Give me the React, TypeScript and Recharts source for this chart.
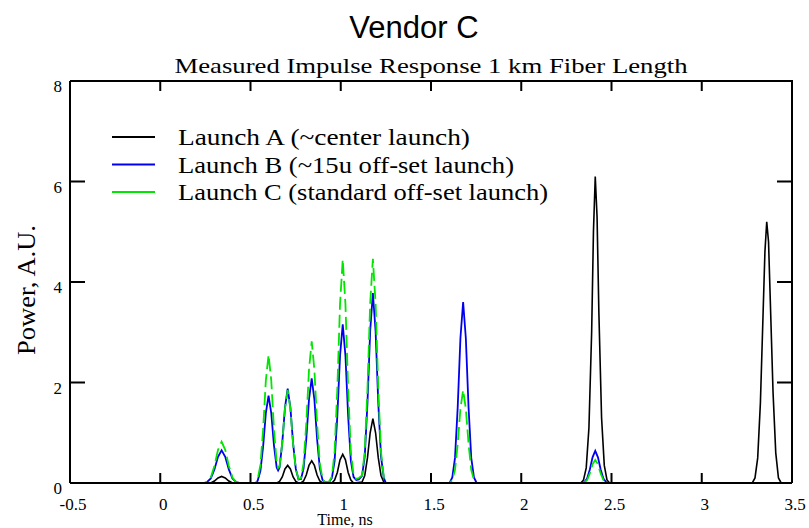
import { LineChart, Line, XAxis, YAxis } from 'recharts'

// time (ns), power (A.U.)
const launchA: [number, number][] = [
  [-0.11, 0], [0.28, 0], [0.3, 0.04], [0.32, 0.1], [0.34, 0.13], [0.36, 0.1], [0.38, 0.04], [0.4, 0],
  [0.646, 0], [0.661, 0.03], [0.676, 0.12], [0.691, 0.28], [0.706, 0.35], [0.721, 0.28], [0.736, 0.12], [0.751, 0.03], [0.766, 0],
  [0.779, 0], [0.794, 0.04], [0.809, 0.16], [0.824, 0.35], [0.839, 0.44], [0.854, 0.35], [0.869, 0.16], [0.884, 0.04], [0.899, 0],
  [0.951, 0], [0.966, 0.06], [0.981, 0.21], [0.996, 0.46], [1.011, 0.57], [1.026, 0.46], [1.041, 0.21], [1.056, 0.06], [1.071, 0],
  [1.118, 0.02], [1.133, 0.15], [1.148, 0.5], [1.163, 1.0], [1.178, 1.28], [1.193, 1.0], [1.208, 0.5], [1.223, 0.15], [1.238, 0.02], [1.25, 0],
  [2.33, 0], [2.345, 0.06], [2.36, 0.3], [2.375, 1.1], [2.39, 3.0], [2.4, 5.0], [2.41, 6.1], [2.42, 5.3], [2.43, 3.4], [2.445, 1.3], [2.46, 0.35], [2.475, 0.06], [2.49, 0],
  [3.28, 0], [3.295, 0.1], [3.31, 0.5], [3.325, 1.6], [3.34, 3.4], [3.35, 4.6], [3.36, 5.2], [3.37, 4.8], [3.38, 3.6], [3.395, 1.8], [3.41, 0.6], [3.425, 0.1], [3.44, 0],
  [3.5, 0],
]

const launchB: [number, number][] = [
  [-0.11, 0], [0.24, 0], [0.26, 0.02], [0.28, 0.09], [0.3, 0.27], [0.32, 0.52], [0.34, 0.65], [0.36, 0.52], [0.38, 0.27], [0.4, 0.09], [0.42, 0.02], [0.44, 0],
  [0.53, 0], [0.54, 0.05], [0.555, 0.24], [0.57, 0.73], [0.585, 1.39], [0.6, 1.74], [0.615, 1.39], [0.63, 0.75], [0.645, 0.31], [0.653, 0.25], [0.661, 0.31],
  [0.676, 0.8], [0.691, 1.5], [0.706, 1.88], [0.721, 1.5], [0.736, 0.79], [0.751, 0.28], [0.766, 0.07], [0.78, 0.08],
  [0.794, 0.29], [0.809, 0.87], [0.824, 1.66], [0.839, 2.08], [0.854, 1.66], [0.869, 0.87], [0.884, 0.29], [0.899, 0.06], [0.914, 0.01],
  [0.936, 0.02], [0.951, 0.1], [0.966, 0.44], [0.981, 1.33], [0.996, 2.53], [1.011, 3.16], [1.026, 2.53], [1.041, 1.33], [1.056, 0.44], [1.071, 0.12], [1.086, 0.06], [1.1, 0.07],
  [1.118, 0.14], [1.133, 0.53], [1.148, 1.59], [1.163, 3.02], [1.178, 3.78], [1.193, 3.02], [1.208, 1.59], [1.223, 0.53], [1.238, 0.11], [1.25, 0],
  [1.603, 0], [1.618, 0.11], [1.633, 0.5], [1.648, 1.51], [1.663, 2.88], [1.678, 3.6], [1.693, 2.88], [1.708, 1.51], [1.723, 0.5], [1.738, 0.11], [1.753, 0],
  [2.335, 0], [2.35, 0.02], [2.365, 0.09], [2.38, 0.27], [2.395, 0.51], [2.41, 0.64], [2.425, 0.51], [2.44, 0.27], [2.455, 0.09], [2.47, 0.02], [2.485, 0],
  [3.5, 0],
]

const launchC: [number, number][] = [
  [-0.11, 0], [0.24, 0], [0.26, 0.02], [0.28, 0.11], [0.3, 0.34], [0.32, 0.66], [0.34, 0.82], [0.36, 0.66], [0.38, 0.34], [0.4, 0.11], [0.42, 0.02], [0.44, 0],
  [0.53, 0], [0.54, 0.08], [0.555, 0.36], [0.57, 1.07], [0.585, 2.04], [0.6, 2.55], [0.615, 2.04], [0.63, 1.07], [0.645, 0.4], [0.653, 0.3], [0.661, 0.33],
  [0.676, 0.8], [0.691, 1.48], [0.706, 1.85], [0.721, 1.48], [0.736, 0.78], [0.751, 0.28], [0.766, 0.08], [0.78, 0.1],
  [0.794, 0.39], [0.809, 1.18], [0.824, 2.25], [0.839, 2.82], [0.854, 2.25], [0.869, 1.18], [0.884, 0.39], [0.899, 0.08], [0.914, 0.01],
  [0.936, 0.03], [0.951, 0.13], [0.966, 0.62], [0.981, 1.87], [0.996, 3.56], [1.011, 4.45], [1.026, 3.56], [1.041, 1.87], [1.056, 0.62], [1.071, 0.16], [1.086, 0.08], [1.1, 0.1],
  [1.118, 0.15], [1.133, 0.63], [1.148, 1.87], [1.163, 3.57], [1.178, 4.46], [1.193, 3.57], [1.208, 1.87], [1.223, 0.62], [1.238, 0.13], [1.25, 0],
  [1.603, 0], [1.618, 0.06], [1.633, 0.26], [1.648, 0.78], [1.663, 1.48], [1.678, 1.85], [1.693, 1.48], [1.708, 0.78], [1.723, 0.26], [1.738, 0.06], [1.753, 0],
  [2.335, 0], [2.35, 0.01], [2.365, 0.06], [2.38, 0.19], [2.395, 0.37], [2.41, 0.46], [2.425, 0.37], [2.44, 0.19], [2.455, 0.06], [2.47, 0.01], [2.485, 0],
  [3.5, 0],
]

const timeDomain: [number, number] = [-0.5, 3.5]
const powerDomain: [number, number] = [0, 8]
const timeTicks = [-0.5, 0, 0.5, 1, 1.5, 2, 2.5, 3, 3.5]
const powerTicks = [0, 2, 4, 6, 8]

const seriesNames = [
  'Launch A (~center launch)',
  'Launch B (~15u off-set launch)',
  'Launch C (standard off-set launch)',
]
const seriesColors = ['#000000', '#0000ee', '#00e600']
const legendTextWidths = [292, 336, 370]

const toRows = (pts: [number, number][]) => pts.map(([t, p]) => ({ t, p }))

const serif = '"Liberation Serif", "Times New Roman", serif'

// plot box in page pixels; the chart margins are derived from it
const W = 809
const H = 528
const plot = { left: 70, right: 792, top: 81, bottom: 483 }
const yAxisWidth = 50
const xAxisHeight = 30

// same linear mapping the chart uses, only for the frame's inward tick marks
const tickX = (t: number) =>
  plot.left + ((t - timeDomain[0]) / (timeDomain[1] - timeDomain[0])) * (plot.right - plot.left)
const tickY = (v: number) =>
  plot.bottom - ((v - powerDomain[0]) / (powerDomain[1] - powerDomain[0])) * (plot.bottom - plot.top)

// one path for the box edges and all inward tick marks
const framePath = [
  `M${plot.left},${plot.top}H${plot.right}V${plot.bottom}`,
  ...timeTicks.map(t => `M${tickX(t)},${plot.bottom}v-10M${tickX(t)},${plot.top}v10`),
  ...powerTicks.map(v => `M${plot.left},${tickY(v)}h15M${plot.right},${tickY(v)}h-15`),
].join('')

const BottomTick = ({ x, y, payload }: any) => (
  <text x={Number(x) + 3} y={Number(y) + 27} textAnchor="middle" fontFamily={serif} fontSize={17} fill="#000" stroke="none">
    {payload.value}
  </text>
)

const LeftTick = ({ x, y, payload }: any) => (
  <text x={Number(x) - 8} y={Number(y) + 11} textAnchor="end" fontFamily={serif} fontSize={17} fill="#000" stroke="none">
    {payload.value}
  </text>
)

export default function App() {
  return (
    <div style={{ position: 'absolute', left: 0, top: 0, width: W, height: H }}>
      <LineChart
        width={W}
        height={H}
        margin={{
          top: plot.top,
          right: W - plot.right,
          left: plot.left - yAxisWidth,
          bottom: H - plot.bottom - xAxisHeight,
        }}
      >
        <XAxis
          dataKey="t"
          type="number"
          domain={timeDomain}
          ticks={timeTicks}
          height={xAxisHeight}
          tickSize={0}
          tickMargin={0}
          tickLine={false}
          stroke="#000"
          strokeWidth={2}
          tick={<BottomTick />}
        />
        <YAxis
          type="number"
          domain={powerDomain}
          ticks={powerTicks}
          width={yAxisWidth}
          tickSize={0}
          tickMargin={0}
          tickLine={false}
          stroke="#000"
          strokeWidth={2}
          tick={<LeftTick />}
        />
        <Line
          data={toRows(launchA)}
          dataKey="p"
          name={seriesNames[0]}
          type="linear"
          stroke={seriesColors[0]}
          strokeWidth={1.6}
          dot={false}
          activeDot={false}
          isAnimationActive={false}
        />
        <Line
          data={toRows(launchB)}
          dataKey="p"
          name={seriesNames[1]}
          type="linear"
          stroke={seriesColors[1]}
          strokeWidth={1.8}
          dot={false}
          activeDot={false}
          isAnimationActive={false}
        />
        <Line
          data={toRows(launchC)}
          dataKey="p"
          name={seriesNames[2]}
          type="linear"
          stroke={seriesColors[2]}
          strokeWidth={1.8}
          strokeDasharray="13 5"
          dot={false}
          activeDot={false}
          isAnimationActive={false}
        />
      </LineChart>
      <svg width={W} height={H} style={{ position: 'absolute', left: 0, top: 0, pointerEvents: 'none' }}>
        {/* box frame with inward ticks on all four sides */}
        <path d={framePath} fill="none" stroke="#000000" strokeWidth={2} />
        <text x={414} y={38} textAnchor="middle" fontFamily='"Liberation Sans", Arial, sans-serif' fontSize={31}>
          Vendor C
        </text>
        <text
          x={431}
          y={73}
          textAnchor="middle"
          fontFamily={serif}
          fontSize={22}
          textLength={513}
          lengthAdjust="spacingAndGlyphs"
        >
          Measured Impulse Response 1 km Fiber Length
        </text>
        {/* legend */}
        {seriesNames.map((name, i) => (
          <g key={name}>
            <line x1={112} x2={155} y1={137 + i * 27.5} y2={137 + i * 27.5} stroke={seriesColors[i]} strokeWidth={2} />
            <text
              x={178}
              y={145 + i * 27.5}
              fontFamily={serif}
              fontSize={23}
              textLength={legendTextWidths[i]}
              lengthAdjust="spacingAndGlyphs"
            >
              {name}
            </text>
          </g>
        ))}
        <text
          x={0}
          y={0}
          transform="translate(35, 290) rotate(-90)"
          textAnchor="middle"
          fontFamily={serif}
          fontSize={25}
          textLength={130}
          lengthAdjust="spacingAndGlyphs"
        >
          Power, A.U.
        </text>
        <text x={345} y={525} textAnchor="middle" fontFamily={serif} fontSize={16}>
          Time, ns
        </text>
      </svg>
    </div>
  )
}
